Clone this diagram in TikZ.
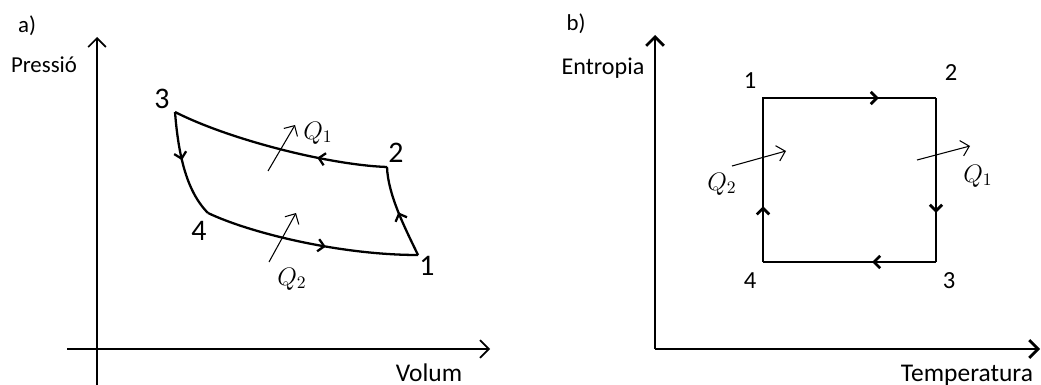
\documentclass[tikz,border=0pt]{standalone}
\usepackage{fontspec}
\setmainfont{Carlito}
\usepackage{amsmath}
\usetikzlibrary{positioning,arrows.meta,decorations.markings}

\tikzset{
	axisline/.style={line width=1pt,-{Straight Barb[length=5pt,width=10pt]}},
	cycleline/.style={line width=1.3pt},
	boxline/.style={line width=1.6pt},
	flowmark/.style={postaction={decorate},decoration={markings,
			mark=at position #1 with {\arrow{Straight Barb[length=3.5pt,width=7pt]}}}},
	heatarrow/.style={line width=0.6pt,-{Straight Barb[length=4.5pt,width=9pt]}},
	axislabel/.style={font=\fontsize{13}{15}\selectfont,anchor=base,inner sep=0pt},
	biglabel/.style={axislabel,font=\fontsize{14.5}{17}\selectfont},
	bignum/.style={font=\fontsize{17}{19}\selectfont,inner sep=0pt},
	smallnum/.style={font=\fontsize{14}{16}\selectfont,inner sep=0pt},
	qlabel/.style={font=\fontsize{14}{16}\selectfont,inner sep=0pt}
}

\begin{document}
\begin{tikzpicture}[x=0.02cm,y=-0.02cm]
	\useasboundingbox (0,0) rectangle (1041,385);
	% a) diagrama P-V
	\coordinate (aO) at (97,349);
	\coordinate (aYbot) at (97,385);
	\coordinate (aYtop) at (97,37);
	\coordinate (aXleft) at (67,349);
	\coordinate (aXright) at (490,349);
	\draw[axisline] (aYbot) -- (aYtop);
	\draw[axisline] (aXleft) -- (aXright);
	\node[axislabel] (alabel) at (27,33) {a)};
	\node[axislabel] (pres) at (44,72) {Pressió};
	\node[biglabel] (vol) at (429,381) {Volum};

	\coordinate (a1) at (418,255);
	\coordinate (a2) at (387,167);
	\coordinate (a3) at (175,112);
	\coordinate (a4) at (208,213);
	\draw[cycleline,flowmark=0.5] (a1) .. controls (405,228) and (388,195) .. (a2);
	\draw[cycleline,flowmark=0.32] (a2) .. controls (330,165) and (230,140) .. (a3);
	\draw[cycleline,flowmark=0.45] (a3) .. controls (178,150) and (185,190) .. (a4);
	\draw[cycleline,flowmark=0.57] (a4) .. controls (250,233) and (340,255) .. (a1);
	\node[bignum] (n1) at (427,266) {1};
	\node[bignum] (n2) at (396,153) {2};
	\node[bignum] (n3) at (162,99) {3};
	\node[bignum] (n4) at (199,231) {4};

	\coordinate (q1s) at (268,171);
	\coordinate (q1e) at (295,125);
	\coordinate (q2s) at (269,262);
	\coordinate (q2e) at (296,213);
	\draw[heatarrow] (q1s) -- (q1e);
	\draw[heatarrow] (q2s) -- (q2e);
	\node[qlabel] (aq1) at (318,133) {$Q_1$};
	\node[qlabel] (aq2) at (292,279) {$Q_2$};

	% b) diagrama T-S
	\coordinate (bO) at (655,349);
	\coordinate (bYtop) at (655,35);
	\coordinate (bXright) at (1040,349);
	\draw[axisline,line width=1.6pt] (bO) -- (bYtop);
	\draw[axisline,line width=1.6pt] (bO) -- (bXright);
	\node[axislabel] (blabel) at (576,31) {b)};
	\node[axislabel,font=\fontsize{13.7}{16}\selectfont] (entr) at (603,75) {Entropia};
	\node[biglabel] (temp) at (967,381) {Temperatura};

	\coordinate (b1) at (763,98);
	\coordinate (b2) at (936,98);
	\coordinate (b3) at (936,262);
	\coordinate (b4) at (763,262);
	\draw[boxline,flowmark=0.67] (b1) -- (b2);
	\draw[boxline,flowmark=0.7] (b2) -- (b3);
	\draw[boxline,flowmark=0.37] (b3) -- (b4);
	\draw[boxline,flowmark=0.34] (b4) -- (b1);
	\draw[boxline] (b1) -- ++(-0.8,0);
	\node[smallnum] (m1) at (750,81) {1};
	\node[smallnum] (m2) at (951,73) {2};
	\node[smallnum] (m3) at (949,281) {3};
	\node[smallnum] (m4) at (750,281) {4};

	\coordinate (p1s) at (917,160);
	\coordinate (p1e) at (970,146);
	\coordinate (p2s) at (732,166);
	\coordinate (p2e) at (786,151);
	\draw[heatarrow] (p1s) -- (p1e);
	\draw[heatarrow] (p2s) -- (p2e);
	\node[qlabel] (bq1) at (978,176) {$Q_1$};
	\node[qlabel] (bq2) at (722,184) {$Q_2$};
\end{tikzpicture}
\end{document}
